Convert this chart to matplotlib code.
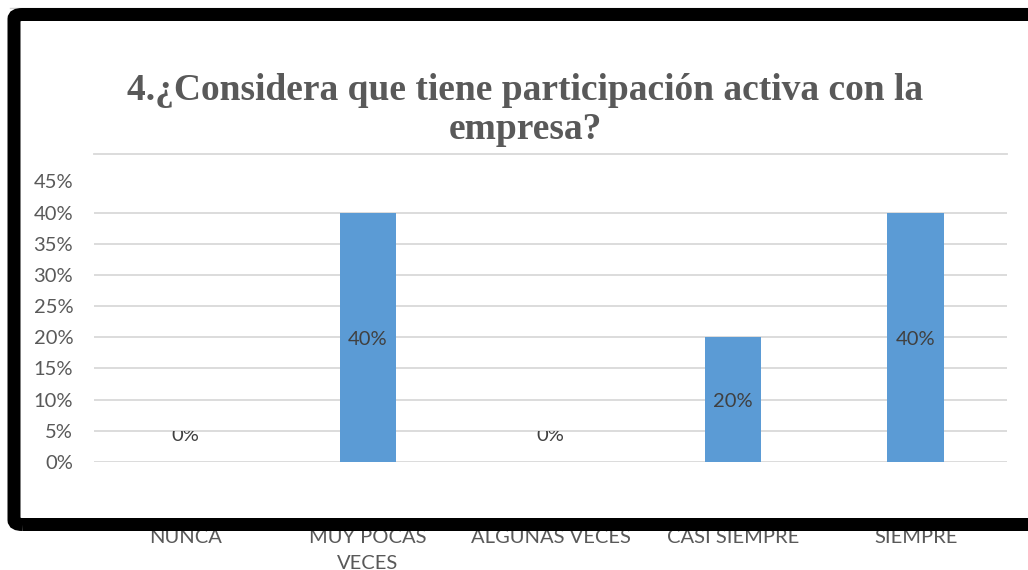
import matplotlib

matplotlib.use("Agg")
import matplotlib.pyplot as plt
from matplotlib.patches import FancyBboxPatch
from matplotlib.transforms import Bbox, TransformedBbox
from matplotlib.ticker import FuncFormatter
import numpy as np

# data
categories = ["NUNCA", "MUY POCAS\nVECES", "ALGUNAS VECES", "CASI SIEMPRE", "SIEMPRE"]
shares = [0.00, 0.40, 0.00, 0.20, 0.40]
y_ticks = [0.00, 0.05, 0.10, 0.15, 0.20, 0.25, 0.30, 0.35, 0.40, 0.45]

BAR = "#5B9BD5"
TEXT = "#595959"
LABEL = "#404040"
GRID = "#D9D9D9"
SANS = "Lato"
FS = 14.5

W, H = 1028, 570
fig = plt.figure(figsize=(W / 100, H / 100), dpi=100)
fig.patch.set_facecolor("white")

# plot area in pixel terms
left, right, top, bottom = 94, 1007, 154, 462
ax = fig.add_axes([left / W, 1 - bottom / H, (right - left) / W, (bottom - top) / H])

x = np.arange(len(categories))
bars = ax.bar(x, shares, width=0.31, color=BAR, zorder=2)

ax.set_xlim(-0.5, len(categories) - 0.5)
ax.set_ylim(0, 0.494)
ax.set_yticks(y_ticks)
ax.yaxis.set_major_formatter(FuncFormatter(lambda v, _: f"{v * 100:.0f}%"))
ax.set_xticks(x)
ax.set_xticklabels(categories, fontsize=FS, color=TEXT, family=SANS, linespacing=1.65)
for lbl in ax.get_yticklabels():
    lbl.set_fontsize(FS)
    lbl.set_color(TEXT)
    lbl.set_family(SANS)
ax.tick_params(axis="y", length=0, pad=15)
ax.tick_params(axis="x", length=0, pad=48)

ax.grid(axis="y", color=GRID, linewidth=1.3, zorder=0)
ax.set_axisbelow(True)
ax.yaxis.get_gridlines()[-1].set_visible(False)
for side in ["left", "right", "bottom"]:
    ax.spines[side].set_visible(False)
ax.spines["top"].set_color(GRID)
ax.spines["top"].set_linewidth(1.3)

# value labels, centred in each bar; empty bars get theirs just above the base
low_clip = TransformedBbox(Bbox([[-0.5, 0], [len(categories) - 0.5, 0.05]]), ax.transData)
for xi, v in zip(x, shares):
    if v > 0:
        ax.annotate(f"{v * 100:.0f}%", (xi, v / 2), xytext=(0, -1.5), textcoords="offset points",
                    ha="center", va="center", fontsize=FS, color=LABEL, family=SANS, zorder=3)
    else:
        t = ax.annotate(f"{v * 100:.0f}%", (xi, 0), xytext=(0, 19), textcoords="offset points",
                        ha="center", va="center", fontsize=FS, color=LABEL, family=SANS, zorder=3)
        t.set_clip_box(low_clip)
        t.set_clip_on(True)

# title
fig.text(525 / W, 1 - 110 / H, "4.¿Considera que tiene participación activa con la\nempresa?",
         ha="center", va="center", fontsize=27, fontweight="bold", color=TEXT,
         family="Liberation Serif", linespacing=1.15)

# thin outer line and thick black frame
fig.add_artist(plt.Line2D([10 / W, 1], [1 - 8 / H, 1 - 8 / H], color="#D0D0D0", lw=1, zorder=4))
lw_px = 13
x0, y_top, y_bot, x1 = 14, 14.5, 524.5, 1045
frame = FancyBboxPatch(
    (x0 / W, 1 - y_bot / H), (x1 - x0) / W, (y_bot - y_top) / H,
    boxstyle="round,pad=0,rounding_size=0.008",
    facecolor="none", edgecolor="black", linewidth=lw_px * 72 / 100,
    transform=fig.transFigure, zorder=5,
)
fig.add_artist(frame)

fig.savefig("out.png", dpi=100, facecolor="white")
